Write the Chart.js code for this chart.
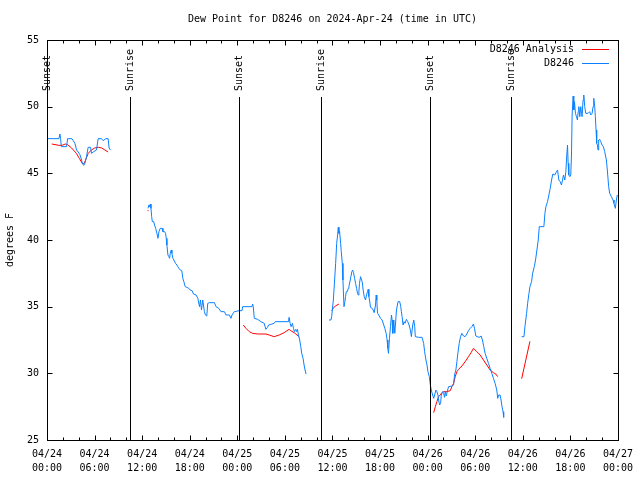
<!DOCTYPE html>
<html><head><meta charset="utf-8">
<script src="https://cdn.jsdelivr.net/npm/chart.js@4.4.1/dist/chart.umd.min.js"></script>
<style>html,body{margin:0;padding:0;background:#fff}canvas{display:block}</style>
</head><body>
<canvas id="c" width="640" height="480"></canvas>
<script>
const titleText = 'Dew Point for D8246 on 2024-Apr-24 (time in UTC)';
const yTitle = 'degrees F';
const xTickDates = ['04/24','04/24','04/24','04/24','04/25','04/25','04/25','04/25','04/26','04/26','04/26','04/26','04/27'];
const xTickTimes = ['00:00','06:00','12:00','18:00','00:00','06:00','12:00','18:00','00:00','06:00','12:00','18:00','00:00'];
const yTicks = [25, 30, 35, 40, 45, 50, 55];
const sunHours = [0, 10.43, 24.17, 34.6, 48.25, 58.56];
const sunLabels = ['Sunset','Sunrise','Sunset','Sunrise','Sunset','Sunrise'];

// hours since 04/24 00:00 UTC; null value = gap in record
const obsHours = [
0.04,1.51,1.63,1.72,1.80,2.47,2.60,3.14,3.31,3.52,3.73,3.94,4.15,4.36,4.48,4.65,4.78,4.98,5.19,5.49,5.61,5.82,6.24,6.45,6.87,7.08,7.41,7.71,7.83,8.0,
10,
12.73,12.86,12.94,13.03,13.11,13.2,13.28,13.45,13.57,13.70,13.86,13.99,14.12,14.28,14.53,14.62,14.83,14.95,15.04,15.12,15.25,15.37,15.46,15.54,15.67,15.75,15.88,16.0,16.21,16.38,16.5,16.63,16.8,17.0,17.13,17.26,17.43,17.63,17.89,18.05,18.3,18.47,18.81,19.02,19.23,19.35,19.48,19.64,19.85,19.98,20.15,20.27,20.48,21.11,21.32,21.66,21.95,22.37,22.58,23.0,23.2,23.33,23.62,
24.25,24.59,24.67,25.85,25.93,26.01,26.14,26.56,26.98,27.39,27.6,27.81,27.94,28.23,28.65,28.78,30.45,30.53,30.66,30.78,30.95,31.08,31.2,31.37,31.5,31.58,31.71,31.87,32.0,32.12,32.29,32.42,32.54,32.67,
34,
35.56,35.81,35.9,35.98,36.11,36.23,36.4,36.53,36.65,36.73,36.82,36.9,37.03,37.11,37.24,37.32,37.45,37.57,37.65,37.74,37.87,37.99,38.07,38.2,38.32,38.45,38.54,38.66,38.79,38.91,39.04,39.16,39.25,39.33,39.41,39.54,39.67,39.75,39.87,40.0,40.17,40.29,40.42,40.5,40.59,40.67,40.8,41.01,41.13,41.26,41.43,41.51,41.59,41.68,41.84,42.06,42.26,42.47,42.6,42.77,42.89,42.98,43.06,43.19,43.31,43.44,43.52,43.61,43.73,43.86,43.98,44.07,44.19,44.27,44.48,44.61,44.69,44.78,44.9,45.03,45.15,45.32,45.49,45.66,45.82,45.95,46.12,46.25,46.37,46.45,46.87,47.29,
47.5,47.62,47.79,47.92,48.04,48.21,48.34,48.46,48.63,48.76,48.88,49.05,49.17,49.3,49.38,49.51,49.64,49.72,49.89,50.01,50.14,50.22,50.35,50.47,50.64,51.06,51.27,51.39,51.56,51.69,51.81,51.98,52.15,52.32,52.53,52.73,52.94,53.15,53.36,53.57,53.78,53.91,54.08,54.24,54.49,54.75,54.91,55.08,55.25,55.46,55.67,55.88,56.09,56.3,56.51,56.72,56.84,56.97,57.13,57.26,57.38,57.51,57.59,
58.5,
59.86,60.15,60.27,60.48,60.61,60.78,60.9,61.11,61.24,61.45,61.61,61.78,61.95,62.08,62.66,62.79,62.92,63.12,63.29,63.46,63.63,63.79,64.04,64.25,64.38,64.55,64.71,64.88,65.01,65.13,65.3,65.43,65.55,65.64,65.72,65.8,65.93,66.05,66.14,66.22,66.35,66.43,66.52,66.64,66.77,66.89,66.98,67.06,67.19,67.31,67.4,67.48,67.6,67.69,67.81,67.94,68.23,68.44,68.57,68.74,68.86,68.95,69.07,69.15,69.24,69.32,69.41,69.49,69.57,69.7,69.83,69.99,70.16,70.33,70.54,70.66,70.83,70.96,71.17,71.38,71.5,71.67,71.8,71.92
];
const obsDew = [
47.6,47.6,47.95,47.6,47.0,47.0,47.6,47.6,47.45,47.25,46.75,46.6,46.4,46.0,45.7,45.6,45.75,46.25,46.95,46.95,46.5,46.6,46.75,47.6,47.6,47.45,47.6,47.6,46.9,46.75,
null,
42.375,42.625,42.5,42.7,42.375,41.75,41.375,41.375,41.125,40.875,40.5,40.125,40.625,40.875,40.875,40.625,40.625,40.5,40.125,39.625,38.875,38.75,38.625,39.0,39.25,39.0,38.625,38.5,38.25,38.125,38.0,37.875,37.75,37.7,37.125,36.875,36.5,36.45,36.375,36.25,36.2,35.95,35.875,35.625,35.0,35.5,34.75,35.5,34.625,34.375,34.3,35.25,35.3,35.3,35.0,34.875,34.625,34.625,34.375,34.375,34.125,34.375,34.625,
34.7,34.7,35.0,35.0,35.2,35.0,34.125,34.05,33.875,33.75,33.3,33.45,33.625,33.675,33.75,33.875,33.875,34.2,33.75,33.5,33.75,33.375,33.125,33.3,33.125,33.3,32.875,32.5,32.0,31.5,31.125,30.625,30.25,29.95,
null,
34.0,34.0,34.25,34.75,35.5,36.625,38.25,39.75,40.375,40.95,40.5,40.625,39.75,39.125,38.25,37.0,35.0,35.375,35.75,36.125,36.125,36.375,36.5,36.875,37.25,37.625,37.75,37.55,37.125,36.75,36.375,36.0,35.875,36.125,36.75,37.25,37.0,36.875,36.25,35.75,35.5,35.875,36.125,36.3,35.75,35.5,34.95,34.875,34.75,34.55,35.125,35.875,35.5,34.5,34.375,34.125,34.0,33.625,33.375,33.0,32.5,31.875,31.5,32.625,33.5,34.375,34.0,33.0,34.0,33.0,34.0,34.75,35.125,35.375,35.375,35.0,34.625,34.25,33.625,33.875,33.75,34.05,33.875,33.625,33.25,32.75,33.625,34.0,33.5,32.75,32.7,32.7,
32.25,31.625,31.0,30.625,30.125,29.75,29.125,28.75,28.375,28.125,28.375,28.75,28.625,28.375,28.0,27.625,27.75,28.375,28.625,28.5,28.2,28.625,28.3,28.625,29.0,29.05,29.125,29.875,30.25,30.875,31.5,32.25,32.75,33.0,32.8,32.75,32.95,33.2,33.375,33.5,33.7,33.375,32.8,32.75,32.7,32.8,32.5,32.0,31.5,31.125,30.75,30.375,30.0,29.625,29.25,28.75,28.125,28.375,28.375,28.0,27.5,27.125,26.7,
null,
32.75,32.75,33.5,34.5,35.25,36.0,36.5,36.875,37.5,38.0,38.5,39.25,40.0,41.0,41.0,42.0,42.5,42.875,43.375,43.875,44.5,44.95,44.875,45.125,45.25,44.5,44.375,44.125,44.5,44.875,44.5,45.125,46.375,47.125,45.75,44.875,44.75,44.875,46.375,49.375,50.8,49.75,50.375,49.5,49.25,49.0,49.625,50.0,49.25,50.0,49.5,49.25,50.5,50.875,50.0,49.5,49.5,49.625,49.375,49.5,50.0,50.625,50.0,49.25,48.25,47.25,47.125,46.75,47.5,47.55,47.375,47.125,47.0,46.625,46.0,45.25,44.0,43.5,43.25,43.0,42.75,42.375,43.0,43.375
];

const anaHours = [
0.6,1.5,1.9,2.3,2.6,3.1,3.7,4.1,4.5,4.7,5.2,5.6,6.0,6.5,6.9,7.3,7.7,
10,
12.68,12.8,
18,
24.75,25.09,25.51,25.93,26.56,27.6,28.02,28.65,29.28,29.9,30.53,30.74,31.16,31.37,31.8,
34,
35.9,36.11,36.36,36.82,
42,
48.76,48.97,49.17,49.38,49.59,49.8,50.01,50.43,50.85,51.06,51.27,51.48,51.69,51.9,52.32,52.73,53.15,53.48,53.78,54.2,54.62,55.04,55.46,55.88,56.3,56.59,56.84,
58.5,
59.86,60.9
];
const anaDew = [
47.2,47.1,47.1,47.2,47.15,46.9,46.5,46.1,45.7,45.75,46.5,46.75,46.9,46.95,46.9,46.75,46.6,
null,
42.2,42.2,
null,
33.625,33.375,33.125,33.0,32.95,32.95,32.875,32.75,32.875,33.05,33.3,33.2,33.05,32.95,32.75,
null,
34.7,34.9,35.05,35.2,
null,
27.05,27.5,27.875,28.25,28.375,28.55,28.625,28.625,28.7,29.0,29.25,29.75,30.125,30.3,30.55,30.875,31.25,31.55,31.875,31.625,31.375,31.0,30.625,30.25,30.05,29.95,29.75,
null,
29.6,32.4
];

const FONT = {family: "'DejaVu Sans Mono', monospace", size: 10, lineHeight: 1.4};
Chart.defaults.font = FONT;
Chart.defaults.color = '#000';

const toXY = (hs, vs) => hs.map((h, i) => ({x: h, y: vs[i]}));

const framePlugin = {
  id: 'frame',
  afterDatasetsDraw(chart) {
    const {ctx, chartArea: a, scales: {x, y}} = chart;
    ctx.save();
    ctx.strokeStyle = '#000';
    ctx.lineWidth = 1;
    const L = Math.round(a.left) + 0.5, R = Math.round(a.right) + 0.5;
    const T = Math.round(a.top) + 0.5, B = Math.round(a.bottom) + 0.5;
    ctx.font = "10px 'DejaVu Sans Mono'";
    ctx.fillStyle = '#000';
    // title centred over the plot area
    ctx.textAlign = 'center';
    ctx.textBaseline = 'middle';
    ctx.fillText(titleText, (a.left + a.right) / 2, 19);
    ctx.beginPath();
    // minor x ticks every 2 h, major every 6 h
    for (let h = 0; h <= 72; h += 2) {
      const px = Math.round(x.getPixelForValue(h)) + 0.5;
      const len = (h % 6 === 0) ? 5 : 3;
      ctx.moveTo(px, B); ctx.lineTo(px, B - len);
      ctx.moveTo(px, T); ctx.lineTo(px, T + len);
    }
    yTicks.forEach(v => {
      const py = Math.round(y.getPixelForValue(v)) + 0.5;
      ctx.moveTo(L, py); ctx.lineTo(L + 5, py);
      ctx.moveTo(R, py); ctx.lineTo(R - 5, py);
    });
    ctx.stroke();
    // sunrise / sunset markers
    sunHours.forEach((h, i) => {
      const px = Math.round(x.getPixelForValue(h)) + 0.5;
      ctx.beginPath();
      ctx.moveTo(px, 97); ctx.lineTo(px, B);
      ctx.stroke();
      ctx.save();
      ctx.translate(px, 91);
      ctx.rotate(-Math.PI / 2);
      ctx.textAlign = 'left';
      ctx.textBaseline = 'middle';
      ctx.fillText(sunLabels[i], 0, 0);
      ctx.restore();
    });
    // border
    ctx.strokeRect(L, T, R - L, B - T);
    // legend (gnuplot style: text right aligned, sample line to the right)
    chart.data.datasets.forEach((ds, i) => {
      const ly = 49 + i * 14;
      ctx.textAlign = 'right';
      ctx.textBaseline = 'middle';
      ctx.fillStyle = '#000';
      ctx.fillText(ds.label, 574, ly);
      ctx.strokeStyle = ds.borderColor;
      ctx.beginPath();
      ctx.moveTo(582, ly + 0.5); ctx.lineTo(609, ly + 0.5);
      ctx.stroke();
    });
    ctx.restore();
  }
};

new Chart(document.getElementById('c'), {
  type: 'line',
  data: {
    datasets: [
      {label: 'D8246 Analysis', data: toXY(anaHours, anaDew), borderColor: '#ff0000', borderWidth: 1, pointRadius: 0, spanGaps: false, order: 1},
      {label: 'D8246', data: toXY(obsHours, obsDew), borderColor: '#0a80ff', borderWidth: 1, pointRadius: 0, spanGaps: false, order: 0}
    ]
  },
  options: {
    responsive: false,
    animation: false,
    events: [],
    layout: {padding: {top: 40, right: 20, left: 0, bottom: 0}},
    plugins: {
      legend: {display: false},
      tooltip: {enabled: false},
      title: {display: false}
    },
    scales: {
      x: {
        type: 'linear', min: 0, max: 72,
        afterFit: s => { s.height = 40; },
        grid: {display: false, drawTicks: false},
        border: {display: false},
        ticks: {
          stepSize: 6, autoSkip: false, maxRotation: 0, padding: 7,
          callback: v => { const i = Math.round(v / 6); return [xTickDates[i], xTickTimes[i]]; }
        }
      },
      y: {
        min: 25, max: 55,
        afterFit: s => { s.width = 47; },
        grid: {display: false, drawTicks: false},
        border: {display: false},
        ticks: {stepSize: 5, padding: 8, callback: v => String(v)},
        title: {display: true, text: yTitle, padding: {top: 4, bottom: 0}, font: {size: 10, lineHeight: 1.2}}
      }
    }
  },
  plugins: [framePlugin]
});
</script>
</body></html>
